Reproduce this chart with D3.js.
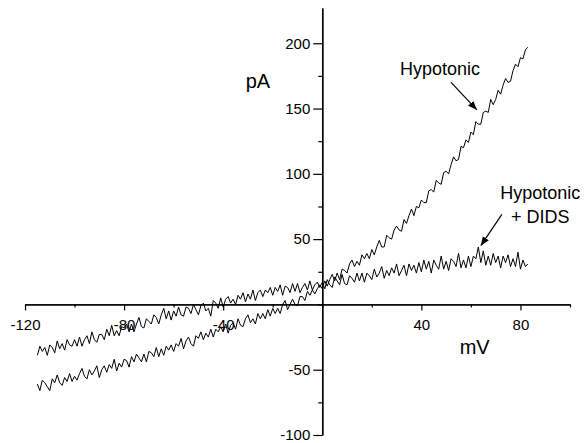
<!DOCTYPE html>
<html>
<head>
<meta charset="utf-8">
<script src="https://cdn.jsdelivr.net/npm/d3@7"></script>
<style>
  body { margin: 0; background: #fff; }
  svg { display: block; font-family: "Liberation Sans", Arial, sans-serif; }
</style>
</head>
<body>
<script>
// membrane potential, mV (1 mV sampling, -115 .. 83)
var voltage = d3.range(-115, 84, 1);

// current traces, pA
var hypotonic = [
  -61, -66, -58, -60, -63, -66, -57, -60, -54, -60, -62, -56, -59, -53, -59, -55,
  -58, -53, -49, -55, -57, -50, -54, -51, -47, -56, -50, -47, -52, -46, -49, -42, -51, -45, -48, -42,
  -43, -48, -40, -44, -38, -41, -44, -38, -44, -36, -37, -40, -33, -40, -34, -39, -32, -35, -31,
  -36, -30, -32, -26, -34, -28, -25, -30, -32, -24, -26, -21, -27, -22, -25, -19, -25, -19, -21, -17,
  -21, -15, -22, -16, -14, -19, -11, -16, -17, -11, -8, -14, -11, -15, -7, -11, -7, -11, -4, -9,
  -3, -7, -3, -7, 0, 3, -4, 0, 4, 0, -1, 6, 6, 3, 10, 7, 11, 8, 12, 15,
  12, 18, 14, 19, 23, 18, 24, 19, 27, 26, 24, 31, 34, 29, 33, 30, 38, 35, 39, 35,
  42, 38, 44, 49, 44, 44, 53, 51, 50, 57, 60, 57, 56, 65, 62, 68, 73, 68, 75, 74,
  80, 78, 78, 87, 88, 86, 95, 93, 92, 101, 102, 100, 107, 113, 110, 111, 121, 120, 126, 124,
  132, 130, 140, 138, 138, 147, 148, 147, 157, 153, 157, 164, 161, 168, 173, 170, 171, 179, 184, 182, 189, 188, 195, 197
];

var hypotonicDids = [
  -39, -32, -36, -33, -39, -31, -33, -37, -28, -34, -30, -35, -27, -31, -32, -27,
  -32, -25, -32, -27, -24, -30, -21, -27, -29, -23, -23, -27, -19, -24, -16, -24, -20, -24, -17, -18,
  -15, -21, -15, -21, -15, -10, -17, -18, -11, -13, -15, -8, -10, -15, -8, -3, -11, -5, -12,
  -5, -9, -2, -8, -9, -2, -3, -7, 0, -4, -8, -1, 1, -5, -3, -9, 3, 1, -3, 5,
  -2, 4, 6, 1, 4, 0, 7, 4, 9, 2, 8, 4, 11, 3, 9, 11, 6, 11, 9, 13,
  7, 13, 10, 15, 7, 14, 13, 9, 16, 10, 16, 9, 13, 16, 11, 18, 11, 15, 17, 13,
  17, 12, 19, 15, 13, 21, 18, 15, 23, 16, 15, 22, 20, 17, 24, 18, 24, 17, 24, 22,
  19, 27, 21, 24, 29, 20, 26, 22, 28, 24, 31, 22, 26, 30, 22, 31, 26, 30, 24, 32,
  25, 34, 27, 33, 24, 34, 30, 27, 37, 27, 33, 26, 35, 33, 29, 39, 28, 34, 28, 37,
  29, 37, 35, 44, 32, 41, 30, 37, 30, 39, 32, 37, 28, 37, 32, 38, 29, 35, 29, 40, 27, 34, 29, 31
];

var xTicks = [-120, -80, -40, 40, 80];
var xMinor = [-100, -60, -20, 0, 20, 60, 100];
var yTicks = [-100, -50, 50, 100, 150, 200];
var yMinor = [-75, -25, 0, 25, 75, 125, 175];

var width = 584, height = 443;

var svg = d3.select('body').append('svg')
  .attr('width', width)
  .attr('height', height);

var x = d3.scaleLinear().domain([-120, 100]).range([25, 570]);
var y = d3.scaleLinear().domain([-100, 227]).range([435, 8]);

var plain = function(d) { return String(d); };

// x axis through pA = 0
svg.append('g')
  .attr('transform', 'translate(0,' + y(0) + ')')
  .call(d3.axisBottom(x).tickValues(xMinor).tickSize(3).tickSizeOuter(0).tickFormat(''));
svg.append('g')
  .attr('transform', 'translate(0,' + y(0) + ')')
  .call(d3.axisBottom(x).tickValues(xTicks).tickSize(6).tickPadding(9).tickSizeOuter(0).tickFormat(plain));

// y axis through mV = 0
svg.append('g')
  .attr('transform', 'translate(' + x(0) + ',0)')
  .call(d3.axisLeft(y).tickValues(yMinor).tickSize(4).tickSizeOuter(0).tickFormat(''));
svg.append('g')
  .attr('transform', 'translate(' + x(0) + ',0)')
  .call(d3.axisLeft(y).tickValues(yTicks).tickSize(9).tickPadding(3).tickSizeOuter(0).tickFormat(plain));

svg.selectAll('.domain').attr('stroke', '#000').attr('stroke-width', 1.3);
svg.selectAll('.tick line').attr('stroke', '#000').attr('stroke-width', 1.2);
svg.selectAll('.tick text')
  .attr('fill', '#000')
  .style('font-family', '"Liberation Sans", Arial, sans-serif')
  .style('font-size', '15px');

// traces
var line = d3.line()
  .x(function(d) { return x(d[0]); })
  .y(function(d) { return y(d[1]); });

[hypotonic, hypotonicDids].forEach(function(series) {
  svg.append('path')
    .datum(voltage.map(function(v, i) { return [v, series[i]]; }))
    .attr('fill', 'none')
    .attr('stroke', '#000')
    .attr('stroke-width', 1)
    .attr('d', line);
});

// axis titles
svg.append('text')
  .attr('x', x(-26)).attr('y', y(166))
  .attr('text-anchor', 'middle')
  .style('font-size', '20px')
  .text('pA');
svg.append('text')
  .attr('x', x(61.5)).attr('y', y(-38))
  .attr('text-anchor', 'middle')
  .style('font-size', '20px')
  .text('mV');

// annotations
svg.append('defs').append('marker')
  .attr('id', 'head')
  .attr('viewBox', '0 0 10 10')
  .attr('refX', 10).attr('refY', 5)
  .attr('markerWidth', 9).attr('markerHeight', 9)
  .attr('markerUnits', 'userSpaceOnUse')
  .attr('orient', 'auto')
  .append('path')
  .attr('d', 'M0,1 L10,5 L0,9 Z')
  .attr('fill', '#000');

var notes = [
  { lines: ['Hypotonic'], tx: 47.5, ty: 176, from: [52, 170], to: [62.4, 149] },
  { lines: ['Hypotonic', '+ DIDS'], tx: 88, ty: 81, from: [72.5, 69], to: [64, 45] }
];

notes.forEach(function(n) {
  var t = svg.append('text')
    .attr('text-anchor', 'middle')
    .style('font-size', '18px');
  n.lines.forEach(function(s, i) {
    t.append('tspan')
      .attr('x', x(n.tx))
      .attr('y', y(n.ty) + i * 24)
      .text(s);
  });
  svg.append('line')
    .attr('x1', x(n.from[0])).attr('y1', y(n.from[1]))
    .attr('x2', x(n.to[0])).attr('y2', y(n.to[1]))
    .attr('stroke', '#000')
    .attr('stroke-width', 1.2)
    .attr('marker-end', 'url(#head)');
});
</script>
</body>
</html>
